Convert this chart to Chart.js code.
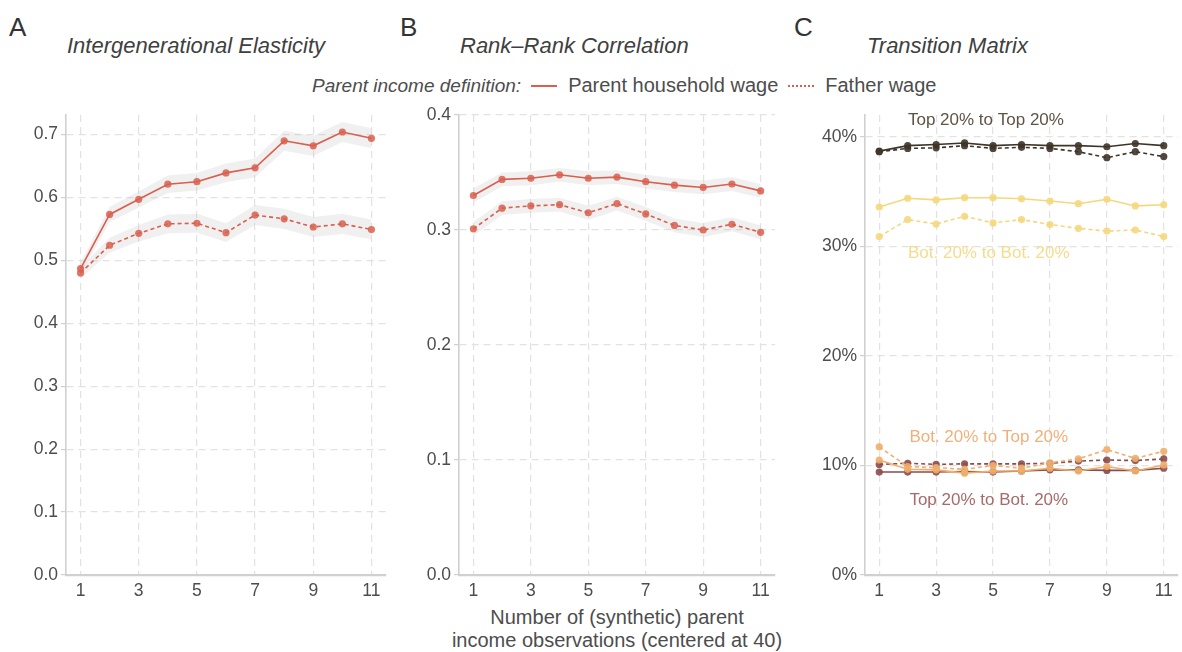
<!DOCTYPE html>
<html>
<head>
<meta charset="utf-8">
<script src="https://cdn.jsdelivr.net/npm/chart.js@4"></script>
<style>
  body { margin: 0; background: #fff; font-family: "Liberation Sans", Arial, sans-serif; color: #4d4d4d; }
  #wrap { position: relative; width: 1182px; height: 652px; overflow: hidden; }
  .panel { position: absolute; top: 100px; height: 520px; }
  .letter { position: absolute; top: 12px; font-size: 26px; color: #333; }
  .title { position: absolute; top: 33px; font-size: 22px; font-style: italic; color: #404040; }
  #legend { position: absolute; top: 73px; left: 312px; font-size: 20px; color: #4d4d4d; white-space: nowrap; }
  #legend span { vertical-align: middle; }
  #legend .ltitle { font-style: italic; font-size: 19px; }
  .swatch { display: inline-block; width: 26px; height: 0; margin: 0 11px 0 10px; vertical-align: middle; }
  #xtitle { position: absolute; top: 606px; left: 417px; width: 400px; text-align: center; font-size: 20px; line-height: 23px; color: #4d4d4d; }
</style>
</head>
<body>
<div id="wrap">
  <div class="letter" style="left:9px">A</div>
  <div class="letter" style="left:400px">B</div>
  <div class="letter" style="left:794px">C</div>
  <div class="title" style="left:67px">Intergenerational Elasticity</div>
  <div class="title" style="left:460px">Rank–Rank Correlation</div>
  <div class="title" style="left:867px">Transition Matrix</div>
  <div id="legend"><span class="ltitle">Parent income definition:</span><span class="swatch" style="border-top:2px solid #d95f4e"></span><span>Parent household wage</span><span class="swatch" style="border-top:2px dotted #d95f4e"></span><span>Father wage</span></div>
  <div id="xtitle">Number of (synthetic) parent<br>income observations (centered at 40)</div>
  <div class="panel" style="left:0;width:400px"><canvas id="chartA"></canvas></div>
  <div class="panel" style="left:400px;width:400px"><canvas id="chartB"></canvas></div>
  <div class="panel" style="left:800px;width:382px"><canvas id="chartC"></canvas></div>
</div>
<script>
// x values: number of parent income observations
let obs = [1, 2, 3, 4, 5, 6, 7, 8, 9, 10, 11]
let xTicks = [1, 3, 5, 7, 9, 11]

// A: intergenerational elasticity
let igeHousehold = [0.487, 0.573, 0.597, 0.621, 0.625, 0.639, 0.647, 0.690, 0.682, 0.704, 0.694]
let igeHouseholdLow = [0.478, 0.561, 0.584, 0.607, 0.611, 0.624, 0.632, 0.674, 0.666, 0.688, 0.678]
let igeHouseholdHigh = [0.496, 0.585, 0.610, 0.635, 0.639, 0.654, 0.662, 0.706, 0.698, 0.720, 0.710]
let igeFather = [0.480, 0.524, 0.543, 0.558, 0.559, 0.544, 0.572, 0.566, 0.553, 0.558, 0.549]
let igeFatherLow = [0.471, 0.512, 0.530, 0.543, 0.544, 0.529, 0.556, 0.550, 0.537, 0.542, 0.533]
let igeFatherHigh = [0.489, 0.536, 0.556, 0.573, 0.574, 0.559, 0.588, 0.582, 0.569, 0.574, 0.565]
let yTicksA = [0, 0.1, 0.2, 0.3, 0.4, 0.5, 0.6, 0.7]

// B: rank-rank correlation
let rrHousehold = [0.330, 0.344, 0.345, 0.348, 0.345, 0.346, 0.342, 0.339, 0.337, 0.340, 0.334]
let rrHouseholdLow = [0.324, 0.338, 0.339, 0.342, 0.339, 0.340, 0.336, 0.333, 0.331, 0.334, 0.328]
let rrHouseholdHigh = [0.336, 0.350, 0.351, 0.354, 0.351, 0.352, 0.348, 0.345, 0.343, 0.346, 0.340]
let rrFather = [0.301, 0.319, 0.321, 0.322, 0.315, 0.323, 0.314, 0.304, 0.300, 0.305, 0.298]
let rrFatherLow = [0.295, 0.313, 0.315, 0.316, 0.309, 0.317, 0.308, 0.298, 0.294, 0.299, 0.292]
let rrFatherHigh = [0.307, 0.325, 0.327, 0.328, 0.321, 0.329, 0.320, 0.310, 0.306, 0.311, 0.304]
let yTicksB = [0, 0.1, 0.2, 0.3, 0.4]

// C: transition matrix cells (percent)
let topTopHousehold = [38.7, 39.2, 39.3, 39.45, 39.2, 39.3, 39.2, 39.2, 39.1, 39.4, 39.2]
let topTopFather = [38.65, 38.95, 39.0, 39.2, 38.95, 39.05, 38.95, 38.65, 38.1, 38.65, 38.2]
let botBotHousehold = [33.6, 34.4, 34.25, 34.45, 34.45, 34.35, 34.15, 33.9, 34.3, 33.7, 33.8]
let botBotFather = [30.9, 32.45, 32.05, 32.75, 32.15, 32.45, 32.0, 31.65, 31.4, 31.5, 30.9]
let botTopHousehold = [10.5, 9.65, 9.6, 9.3, 9.5, 9.5, 9.75, 9.5, 9.9, 9.5, 10.05]
let botTopFather = [11.7, 9.9, 9.8, 9.65, 10.0, 9.75, 10.25, 10.6, 11.45, 10.65, 11.3]
let topBotHousehold = [9.4, 9.4, 9.4, 9.45, 9.4, 9.5, 9.6, 9.6, 9.55, 9.55, 9.75]
let topBotFather = [10.1, 10.2, 10.1, 10.15, 10.15, 10.15, 10.2, 10.4, 10.5, 10.45, 10.6]
let yTicksC = [0, 10, 20, 30, 40]

// C: cell labels (text, x, y in data units, colour)
let cellLabels = ['Top 20% to Top 20%', 'Bot. 20% to Bot. 20%', 'Bot. 20% to Top 20%', 'Top 20% to Bot. 20%']
let cellLabelX = [4.75, 4.85, 4.85, 4.85]
let cellLabelY = [41.5, 29.4, 12.55, 6.8]
let cellLabelColors = ['#5f5346', '#f5dc8c', '#f0b07a', '#a86a6a']

let red = '#d95f4e'
let redPoint = 'rgba(217,95,78,0.85)'
let ribbon = 'rgba(185,185,185,0.22)'
let gridColor = '#e2e2e2'
let axisColor = '#d0d0d0'
let tickFont = { family: '"Liberation Sans", Arial, sans-serif', size: 17.5 }

function points(ys) {
    return obs.map(function(x, i) { return { x: x, y: ys[i] } })
}

function lineSet(ys, color, pointColor, dashed) {
    return {
        data: points(ys),
        borderColor: color,
        backgroundColor: pointColor,
        borderWidth: 1.6,
        borderDash: dashed ? [4, 3] : [],
        pointRadius: 3.6,
        pointBorderWidth: 0,
        pointBackgroundColor: pointColor,
        fill: false,
        order: 1
    }
}

function ribbonSets(low, high) {
    return [
        { data: points(low), borderWidth: 0, pointRadius: 0, fill: false, order: 5 },
        { data: points(high), borderWidth: 0, pointRadius: 0, fill: '-1', backgroundColor: ribbon, order: 5 }
    ]
}

function makeOptions(yMax, yTicks, yWidth, padRight, fmt) {
    return {
        animation: false,
        responsive: false,
        layout: { padding: { top: 15, right: padRight, bottom: 0, left: 0 } },
        plugins: { legend: { display: false }, tooltip: { enabled: false } },
        scales: {
            x: {
                type: 'linear', min: 0.5, max: 11.5,
                afterBuildTicks: function(scale) { scale.ticks = xTicks.map(function(v) { return { value: v } }) },
                afterFit: function(scale) { scale.height = 45 },
                grid: { color: gridColor, lineWidth: 1.2, drawTicks: false },
                border: { display: true, color: axisColor, width: 2.2, dash: [7, 5] },
                ticks: { color: '#4d4d4d', font: tickFont, padding: 6, maxRotation: 0 }
            },
            y: {
                min: 0, max: yMax,
                afterBuildTicks: function(scale) { scale.ticks = yTicks.map(function(v) { return { value: v } }) },
                afterFit: function(scale) { scale.width = yWidth },
                grid: { color: gridColor, lineWidth: 1.2, tickLength: 5, tickColor: axisColor },
                border: { display: true, color: axisColor, width: 1.6, dash: [7, 5] },
                ticks: { color: '#4d4d4d', font: tickFont, padding: 3, callback: fmt }
            }
        }
    }
}

let cellLabelPlugin = {
    id: 'cellLabels',
    afterDatasetsDraw: function(chart) {
        let ctx = chart.ctx
        ctx.save()
        ctx.font = '17px "Liberation Sans", Arial, sans-serif'
        ctx.textAlign = 'center'
        ctx.textBaseline = 'middle'
        cellLabels.forEach(function(text, i) {
            ctx.fillStyle = cellLabelColors[i]
            ctx.fillText(text, chart.scales.x.getPixelForValue(cellLabelX[i]), chart.scales.y.getPixelForValue(cellLabelY[i]))
        })
        ctx.restore()
    }
}

function sizeCanvas(id, w, h) {
    let c = document.getElementById(id)
    c.width = w
    c.height = h
    c.style.width = w + 'px'
    c.style.height = h + 'px'
    return c.getContext('2d')
}

new Chart(sizeCanvas('chartA', 400, 520), {
    type: 'line',
    data: {
        datasets: ribbonSets(igeHouseholdLow, igeHouseholdHigh)
            .concat(ribbonSets(igeFatherLow, igeFatherHigh))
            .concat([lineSet(igeHousehold, red, redPoint, false), lineSet(igeFather, red, redPoint, true)])
    },
    options: makeOptions(0.731, yTicksA, 66, 14, function(v) { return v.toFixed(1) })
})

new Chart(sizeCanvas('chartB', 400, 520), {
    type: 'line',
    data: {
        datasets: ribbonSets(rrHouseholdLow, rrHouseholdHigh)
            .concat(ribbonSets(rrFatherLow, rrFatherHigh))
            .concat([lineSet(rrHousehold, red, redPoint, false), lineSet(rrFather, red, redPoint, true)])
    },
    options: makeOptions(0.4, yTicksB, 59, 25, function(v) { return v.toFixed(1) })
})

new Chart(sizeCanvas('chartC', 382, 520), {
    type: 'line',
    data: {
        datasets: [
            lineSet(botBotHousehold, '#f5d77c', 'rgba(245,215,124,0.9)', false),
            lineSet(botBotFather, '#f5d77c', 'rgba(245,215,124,0.9)', true),
            lineSet(topTopHousehold, '#3f3428', 'rgba(63,52,40,0.9)', false),
            lineSet(topTopFather, '#3f3428', 'rgba(63,52,40,0.9)', true),
            lineSet(botTopHousehold, '#efae6b', 'rgba(239,174,107,0.9)', false),
            lineSet(botTopFather, '#efae6b', 'rgba(239,174,107,0.9)', true),
            lineSet(topBotHousehold, '#8c4b4b', 'rgba(140,75,75,0.9)', false),
            lineSet(topBotFather, '#8c4b4b', 'rgba(140,75,75,0.9)', true)
        ]
    },
    options: makeOptions(42, yTicksC, 65, 1, function(v) { return v + '%' }),
    plugins: [cellLabelPlugin]
})
</script>
</body>
</html>
